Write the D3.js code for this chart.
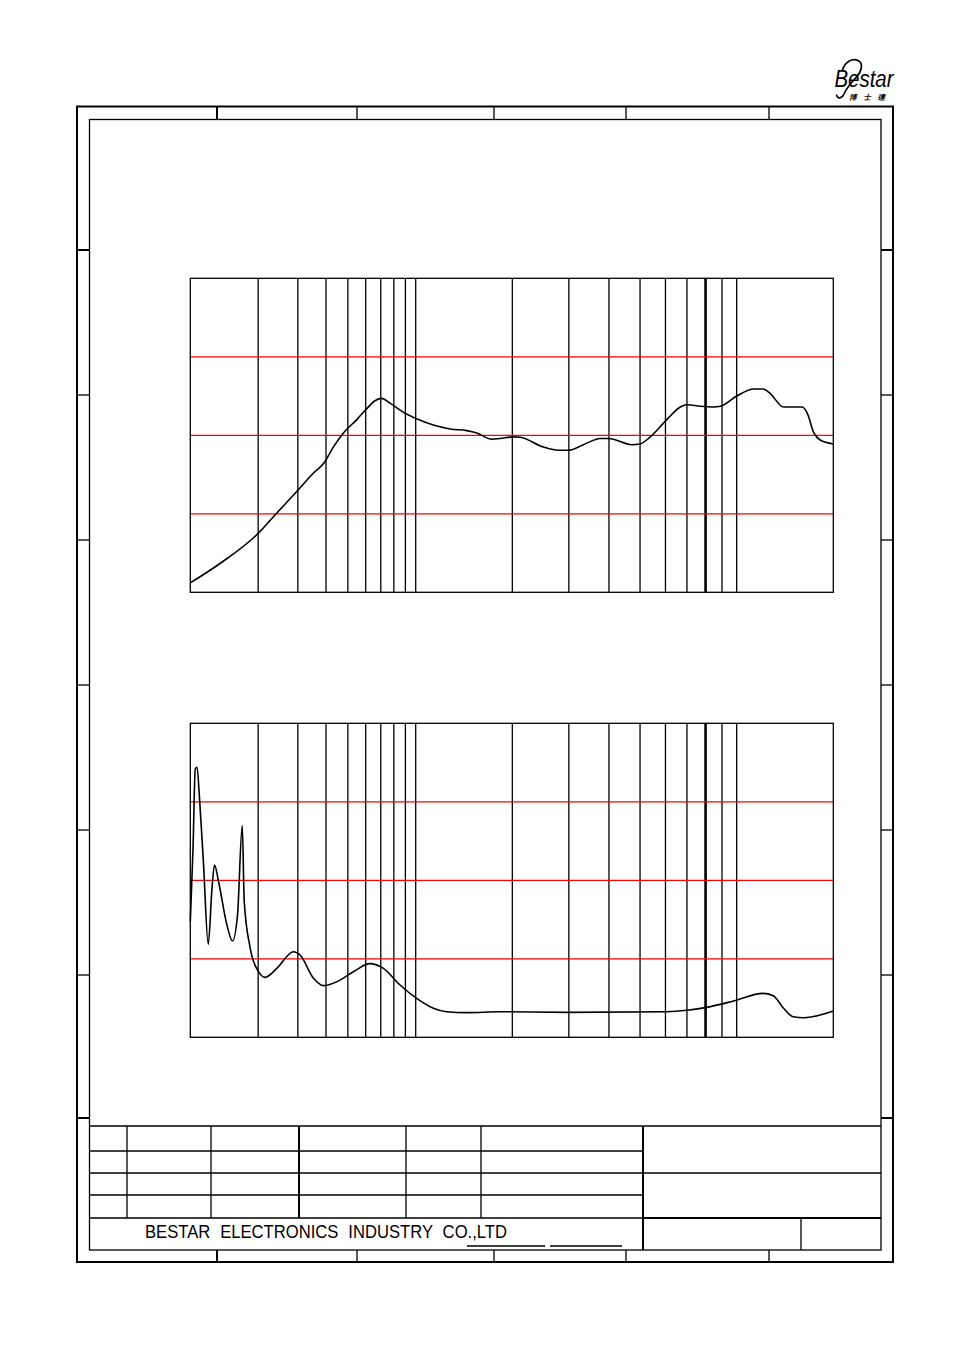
<!DOCTYPE html>
<html>
<head>
<meta charset="utf-8">
<script src="https://cdn.jsdelivr.net/npm/d3@7"></script>
<style>
html, body { margin: 0; padding: 0; background: #fff; }
svg { display: block; }
</style>
</head>
<body>
<svg></svg>
<script>
const width = 954;
const height = 1350;

// vertical grid (Hz), the 8 kHz line is drawn heavier
const gridFreqs = [200, 300, 400, 500, 600, 700, 800, 900, 1000,
    2000, 3000, 4000, 5000, 6000, 7000, 8000, 9000, 10000];
const boldFreq = 8000;

// sound pressure level curve (dB)
const splFreq = [100, 136, 200, 242, 300, 352, 390, 431, 478, 548, 607, 660, 707, 769, 897,
    1007, 1135, 1279, 1442, 1550, 1726, 1832, 2016, 2114, 2500, 2785, 2990, 3330, 3755, 3990,
    4716, 5000, 5380, 6060, 6670, 7000, 7700, 8470, 8890, 10000, 11300, 12100, 12700, 14000,
    15000, 16000, 16600, 17400, 18200, 20000];
const splValue = [71.2, 73.7, 77.5, 80.1, 83.0, 85.2, 86.4, 88.5, 90.3, 92.0, 93.4, 94.4, 94.7, 94.1, 92.8,
    92.1, 91.3, 90.8, 90.6, 90.3, 89.5, 89.6, 89.8, 89.75, 88.5, 88.1, 88.1, 88.8, 89.6, 89.6,
    88.8, 88.9, 89.8, 92.0, 93.6, 93.9, 93.7, 93.6, 93.7, 95.0, 95.9, 95.9, 95.35, 93.6,
    93.6, 93.6, 92.8, 90.3, 89.4, 88.9];
const splTicks = [80, 90, 100];

// total harmonic distortion curve (%)
const thdFreq = [100, 102.8, 105.2, 107.1, 109.9, 114.5, 120.1, 124.8, 128.1, 133.5, 145.4, 153.9,
    162, 170, 173.5, 184.5, 200.7, 215, 242, 287, 307, 352, 390, 447, 529, 627, 719, 852,
    1007, 1135, 1247, 1442, 1832, 2957, 6060, 7000, 7980, 9780, 12100, 13000, 14000, 15000,
    16200, 20000];
const thdValue = [7.36, 12.0, 17.1, 17.2, 15.2, 11.0, 5.92, 9.49, 10.97, 9.91, 7.15, 6.13,
    7.79, 13.48, 8.64, 5.67, 4.18, 3.82, 4.39, 5.45, 5.24, 3.76, 3.29, 3.54, 4.18, 4.69, 4.39, 3.33,
    2.48, 1.85, 1.63, 1.57, 1.63, 1.59, 1.63, 1.72, 1.89, 2.31, 2.80, 2.65, 1.85, 1.31,
    1.25, 1.68];
const thdTicks = [5, 10, 15];

const companyName = "BESTAR ELECTRONICS INDUSTRY CO.,LTD";
const brandName = "Bestar";
const brandCn = "博士達";

const svg = d3.select("svg")
    .attr("width", width)
    .attr("height", height);

// ---------- drawing frame ----------
const frame = svg.append("g").attr("fill", "none").attr("stroke", "#000");

frame.append("rect")
    .attr("x", 77).attr("y", 106.5).attr("width", 816).attr("height", 1155.5)
    .attr("stroke-width", 2);
frame.append("rect")
    .attr("x", 89.5).attr("y", 119.5).attr("width", 791.5).attr("height", 1130.5)
    .attr("stroke-width", 1.3);

const zoneX = [217, 357, 494, 626, 769];
const zoneY = [250, 395, 540, 685, 830, 975, 1118];

frame.selectAll(".ztop").data(zoneX).enter().append("line")
    .attr("x1", d => d).attr("x2", d => d).attr("y1", 106.5).attr("y2", 119.5)
    .attr("stroke-width", (d, i) => i === 0 ? 2 : 1.3);
frame.selectAll(".zbot").data(zoneX).enter().append("line")
    .attr("x1", d => d).attr("x2", d => d).attr("y1", 1250).attr("y2", 1262)
    .attr("stroke-width", (d, i) => i === 0 ? 2 : 1.3);
frame.selectAll(".zleft").data(zoneY).enter().append("line")
    .attr("x1", 77).attr("x2", 89.5).attr("y1", d => d).attr("y2", d => d)
    .attr("stroke-width", (d, i) => i === 0 || i === zoneY.length - 1 ? 2 : 1.3);
frame.selectAll(".zright").data(zoneY).enter().append("line")
    .attr("x1", 881).attr("x2", 893).attr("y1", d => d).attr("y2", d => d)
    .attr("stroke-width", (d, i) => i === 0 || i === zoneY.length - 1 ? 2 : 1.3);

// ---------- title block ----------
const tb = svg.append("g").attr("fill", "none").attr("stroke", "#000").attr("stroke-width", 1.3);
const hLines = [
    [89.5, 881, 1126], [89.5, 643, 1151], [89.5, 881, 1173], [89.5, 643, 1195]
];
hLines.forEach(l => tb.append("line").attr("x1", l[0]).attr("x2", l[1]).attr("y1", l[2]).attr("y2", l[2]));
tb.append("line").attr("x1", 89.5).attr("x2", 643).attr("y1", 1218).attr("y2", 1218);
tb.append("line").attr("x1", 643).attr("x2", 881).attr("y1", 1218).attr("y2", 1218).attr("stroke-width", 2.2);

[127, 211, 406, 481].forEach(x =>
    tb.append("line").attr("x1", x).attr("x2", x).attr("y1", 1126).attr("y2", 1218));
tb.append("line").attr("x1", 299).attr("x2", 299).attr("y1", 1126).attr("y2", 1218).attr("stroke-width", 2);
tb.append("line").attr("x1", 643).attr("x2", 643).attr("y1", 1126).attr("y2", 1250).attr("stroke-width", 2);
tb.append("line").attr("x1", 801).attr("x2", 801).attr("y1", 1218).attr("y2", 1250);

// underlines next to company name
tb.append("line").attr("x1", 467).attr("x2", 545).attr("y1", 1246).attr("y2", 1246);
tb.append("line").attr("x1", 550).attr("x2", 622).attr("y1", 1246).attr("y2", 1246);

svg.append("text")
    .attr("x", 145).attr("y", 1238)
    .attr("textLength", 362).attr("lengthAdjust", "spacingAndGlyphs")
    .style("font-family", "'Liberation Sans', Arial, sans-serif")
    .style("font-size", "19px")
    .style("word-spacing", "6px")
    .attr("fill", "#000")
    .text(companyName);

// ---------- logo ----------
const logo = svg.append("g");
logo.append("path")
    .attr("d", "M842.5,70 C845,62 852,58 858,60.5 C863.5,63 862,71 856.5,77 C850,84 846,89 844,94 C842,98.5 837,99.5 836.5,94.5")
    .attr("fill", "none").attr("stroke", "#000").attr("stroke-width", 1.7);
logo.append("text")
    .attr("x", 834.5).attr("y", 87)
    .attr("textLength", 59).attr("lengthAdjust", "spacingAndGlyphs")
    .style("font-family", "'Liberation Sans', Arial, sans-serif")
    .style("font-style", "italic")
    .style("font-size", "23px")
    .attr("fill", "#000")
    .text(brandName);
logo.append("text")
    .attr("x", 849).attr("y", 100)
    .attr("textLength", 36).attr("lengthAdjust", "spacing")
    .style("font-family", "'Noto Sans CJK TC', sans-serif")
    .style("font-style", "italic")
    .style("font-weight", "bold")
    .style("font-size", "7.5px")
    .attr("fill", "#000")
    .text(brandCn);

// ---------- charts ----------
const x = d3.scaleLog()
    .domain([100, 1000, 20000])
    .range([190.3, 415.7, 833.3]);

function drawChart(top, bottom, yDomain, yTicks, freqs, values) {
    const y = d3.scaleLinear().domain(yDomain).range([bottom, top]);
    const g = svg.append("g");

    g.selectAll(".vgrid").data(gridFreqs).enter().append("line")
        .attr("x1", d => x(d)).attr("x2", d => x(d))
        .attr("y1", top).attr("y2", bottom)
        .attr("stroke", "#000")
        .attr("stroke-width", d => d === boldFreq ? 2.6 : 1.3);

    g.selectAll(".hgrid").data(yTicks).enter().append("line")
        .attr("x1", x.range()[0]).attr("x2", x.range()[2])
        .attr("y1", d => y(d)).attr("y2", d => y(d))
        .attr("stroke", "#f00")
        .attr("stroke-width", 1.3);

    g.append("rect")
        .attr("x", x.range()[0]).attr("y", top)
        .attr("width", x.range()[2] - x.range()[0]).attr("height", bottom - top)
        .attr("fill", "none").attr("stroke", "#000").attr("stroke-width", 1.3);

    const line = d3.line()
        .x(d => x(d[0]))
        .y(d => y(d[1]))
        .curve(d3.curveMonotoneX);

    g.append("path")
        .datum(d3.zip(freqs, values))
        .attr("d", line)
        .attr("fill", "none")
        .attr("stroke", "#000")
        .attr("stroke-width", 1.6);
}

drawChart(278.3, 592.3, [70, 110], splTicks, splFreq, splValue);
drawChart(723.3, 1037.3, [0, 20], thdTicks, thdFreq, thdValue);
</script>
</body>
</html>
